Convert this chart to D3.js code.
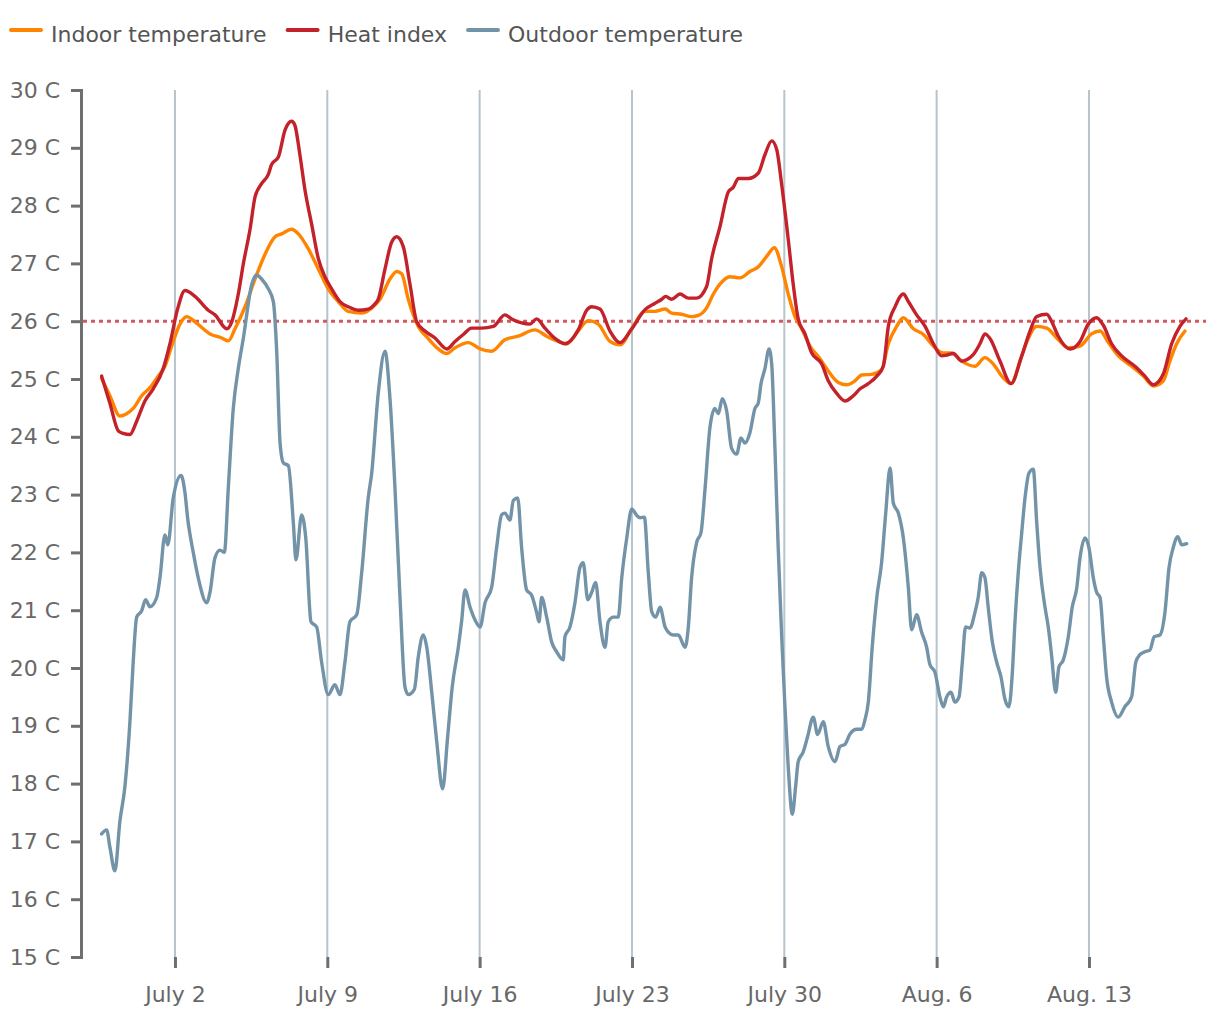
<!DOCTYPE html>
<html><head><meta charset="utf-8">
<script src="https://cdn.jsdelivr.net/npm/d3@7"></script>
<style>
body{margin:0;background:#fff}
svg{display:block}
text{font-family:"DejaVu Sans",sans-serif}
</style>
</head><body>
<svg id="chart" width="1220" height="1020"></svg>
<script>
// ---- data (time = days since June 28, 00:00) ----
const baseDate = Date.UTC(2018, 5, 28);
const seriesNames = ["Indoor temperature", "Heat index", "Outdoor temperature"];
const threshold = 26;
const yTicks = [15,16,17,18,19,20,21,22,23,24,25,26,27,28,29,30];
const xTickDays = [4, 11, 18, 25, 32, 39, 46];
const xTickLabels = ["July 2", "July 9", "July 16", "July 23", "July 30", "Aug. 6", "Aug. 13"];

const indoor = [[0.63,25.01],[1.01,24.71],[1.47,24.36],[1.78,24.40],[2.08,24.49],[2.47,24.71],[2.85,24.85],[3.23,25.05],[3.54,25.22],[3.85,25.57],[4.23,25.95],[4.54,26.08],[4.92,25.99],[5.61,25.78],[6.15,25.71],[6.45,25.66],[6.76,25.87],[7.22,26.25],[7.68,26.73],[8.14,27.16],[8.60,27.46],[8.90,27.51],[9.36,27.59],[9.67,27.51],[10.13,27.25],[10.59,26.90],[11.04,26.56],[11.50,26.34],[11.96,26.17],[12.58,26.14],[13.19,26.28],[13.42,26.38],[13.88,26.73],[14.19,26.86],[14.42,26.82],[14.72,26.38],[15.18,25.91],[15.64,25.70],[16.10,25.52],[16.49,25.44],[16.87,25.54],[17.48,25.63],[18.02,25.52],[18.55,25.48],[19.16,25.68],[19.78,25.74],[20.54,25.85],[21.08,25.74],[21.61,25.65],[22.00,25.61],[22.53,25.83],[22.99,26.01],[23.45,25.95],[23.99,25.65],[24.45,25.59],[24.99,25.87],[25.60,26.17],[26.06,26.17],[26.52,26.21],[26.82,26.14],[27.28,26.12],[27.74,26.08],[28.05,26.10],[28.43,26.23],[28.74,26.47],[29.04,26.64],[29.50,26.77],[29.96,26.75],[30.42,26.86],[30.80,26.94],[31.19,27.12],[31.54,27.27],[31.88,26.94],[32.18,26.47],[32.49,26.08],[32.80,25.87],[33.18,25.57],[33.64,25.35],[34.02,25.14],[34.48,24.94],[34.87,24.90],[35.25,24.97],[35.56,25.07],[36.01,25.08],[36.47,25.16],[36.78,25.61],[37.16,25.91],[37.47,26.06],[37.93,25.87],[38.39,25.77],[38.85,25.57],[39.31,25.45],[39.69,25.45],[40.15,25.31],[40.76,25.22],[41.22,25.37],[41.60,25.26],[42.06,25.02],[42.42,24.92],[42.83,25.31],[43.21,25.70],[43.60,25.91],[44.06,25.88],[44.52,25.71],[45.05,25.54],[45.59,25.57],[46.12,25.78],[46.51,25.83],[46.89,25.63],[47.35,25.40],[47.96,25.22],[48.50,25.05],[48.96,24.88],[49.42,24.97],[49.72,25.31],[50.03,25.61],[50.41,25.83]];

const heatIndex = [[0.63,25.05],[1.01,24.58],[1.40,24.10],[1.62,24.06],[1.93,24.04],[2.24,24.27],[2.62,24.62],[3.00,24.83],[3.46,25.18],[3.77,25.61],[4.12,26.21],[4.46,26.53],[4.92,26.43],[5.53,26.19],[5.84,26.11],[6.38,25.87],[6.61,25.99],[6.91,26.47],[7.14,26.99],[7.45,27.59],[7.68,28.15],[7.98,28.38],[8.29,28.54],[8.44,28.71],[8.75,28.84],[9.06,29.31],[9.36,29.46],[9.51,29.39],[9.74,28.88],[9.97,28.28],[10.28,27.68],[10.59,27.08],[10.89,26.77],[11.20,26.56],[11.58,26.34],[11.96,26.25],[12.42,26.19],[12.88,26.21],[13.19,26.30],[13.34,26.38],[13.65,26.90],[13.96,27.37],[14.19,27.46],[14.49,27.29],[14.80,26.64],[15.11,25.99],[15.49,25.83],[15.95,25.71],[16.49,25.52],[16.87,25.65],[17.25,25.77],[17.63,25.88],[18.09,25.88],[18.63,25.91],[19.16,26.11],[19.47,26.04],[19.93,25.97],[20.31,25.95],[20.62,26.04],[21.00,25.88],[21.54,25.68],[21.92,25.61],[22.53,25.85],[22.92,26.19],[23.15,26.25],[23.53,26.21],[23.99,25.83],[24.45,25.63],[24.99,25.87],[25.60,26.20],[26.06,26.31],[26.37,26.38],[26.55,26.43],[26.82,26.38],[27.21,26.47],[27.59,26.40],[27.97,26.40],[28.43,26.60],[28.66,27.08],[29.04,27.63],[29.43,28.24],[29.66,28.32],[29.89,28.47],[30.35,28.47],[30.80,28.56],[31.11,28.88],[31.42,29.12],[31.65,28.97],[31.88,28.36],[32.18,27.42],[32.41,26.64],[32.64,26.04],[32.95,25.78],[33.26,25.45],[33.72,25.26],[34.02,24.97],[34.41,24.75],[34.79,24.62],[35.17,24.71],[35.48,24.83],[35.86,24.92],[36.25,25.05],[36.55,25.22],[36.78,25.91],[37.09,26.25],[37.47,26.47],[37.70,26.34],[38.08,26.11],[38.47,25.91],[38.85,25.61],[39.23,25.40],[39.53,25.42],[39.76,25.44],[40.15,25.31],[40.68,25.42],[40.99,25.61],[41.22,25.78],[41.45,25.70],[41.91,25.31],[42.42,24.92],[42.91,25.40],[43.29,25.83],[43.60,26.08],[44.06,26.12],[44.29,25.99],[44.59,25.74],[45.13,25.52],[45.59,25.65],[45.97,25.95],[46.35,26.06],[46.66,25.93],[47.04,25.61],[47.50,25.40],[48.11,25.22],[48.57,25.05],[48.96,24.90],[49.42,25.09],[49.80,25.61],[50.18,25.91],[50.46,26.04]];

const outdoor = [[0.63,17.13],[0.86,17.2],[1.01,16.9],[1.24,16.49],[1.47,17.35],[1.70,17.95],[1.93,19.07],[2.08,20.1],[2.24,20.88],[2.47,20.99],[2.65,21.18],[2.85,21.06],[3.16,21.22],[3.31,21.56],[3.54,22.30],[3.67,22.13],[3.92,22.94],[4.28,23.33],[4.46,23.03],[4.58,22.6],[4.84,22.0],[5.07,21.56],[5.46,21.13],[5.61,21.31],[5.84,21.91],[6.07,22.04],[6.27,22.0],[6.45,23.11],[6.68,24.49],[6.91,25.18],[7.14,25.7],[7.53,26.64],[7.75,26.8],[7.98,26.73],[8.29,26.56],[8.52,26.34],[8.67,25.52],[8.83,23.89],[8.98,23.55],[9.21,23.5],[9.44,22.51],[9.56,21.87],[9.82,22.65],[10.01,22.25],[10.25,20.8],[10.51,20.71],[10.74,20.1],[11.04,19.54],[11.35,19.71],[11.58,19.54],[11.81,20.1],[12.04,20.8],[12.35,20.92],[12.58,21.65],[12.88,22.94],[13.04,23.37],[13.34,24.75],[13.65,25.48],[13.88,24.66],[14.11,23.11],[14.34,21.22],[14.57,19.67],[14.72,19.54],[15.00,19.63],[15.18,20.19],[15.41,20.57],[15.57,20.36],[15.80,19.58],[16.03,18.72],[16.30,17.91],[16.53,18.81],[16.74,19.67],[17.02,20.36],[17.17,20.80],[17.33,21.35],[17.56,21.05],[17.79,20.83],[18.02,20.71],[18.25,21.13],[18.55,21.39],[18.78,22.08],[19.01,22.65],[19.16,22.68],[19.39,22.56],[19.55,22.9],[19.75,22.94],[19.93,22.08],[20.16,21.35],[20.39,21.26],[20.62,20.96],[20.73,20.8],[20.85,21.22],[21.08,20.88],[21.31,20.45],[21.54,20.28],[21.84,20.14],[21.92,20.54],[22.15,20.71],[22.38,21.13],[22.61,21.74],[22.76,21.82],[22.97,21.18],[23.15,21.31],[23.33,21.48],[23.53,20.8],[23.76,20.36],[23.91,20.8],[24.14,20.88],[24.37,20.88],[24.53,21.56],[24.76,22.25],[24.99,22.75],[25.22,22.64],[25.37,22.6],[25.57,22.61],[25.75,21.65],[25.91,20.97],[26.09,20.88],[26.29,21.05],[26.52,20.71],[26.67,20.62],[26.90,20.57],[27.13,20.57],[27.44,20.36],[27.59,20.71],[27.74,21.56],[27.97,22.17],[28.17,22.34],[28.36,23.11],[28.58,24.15],[28.81,24.49],[28.97,24.4],[29.15,24.66],[29.35,24.45],[29.58,23.8],[29.81,23.70],[30.01,23.98],[30.19,23.89],[30.42,24.07],[30.65,24.49],[30.80,24.58],[30.93,24.92],[31.11,25.18],[31.30,25.52],[31.42,25.26],[31.57,23.8],[31.72,22.08],[31.88,20.54],[32.03,19.33],[32.18,18.29],[32.37,17.47],[32.52,17.95],[32.64,18.38],[32.87,18.55],[33.07,18.81],[33.33,19.15],[33.53,18.85],[33.79,19.07],[34.02,18.64],[34.33,18.38],[34.56,18.64],[34.79,18.68],[35.02,18.86],[35.33,18.94],[35.56,18.94],[35.71,19.11],[35.86,19.41],[36.04,20.36],[36.25,21.22],[36.47,21.82],[36.66,22.68],[36.86,23.46],[37.01,22.85],[37.24,22.68],[37.47,22.25],[37.70,21.39],[37.85,20.66],[38.08,20.92],[38.31,20.62],[38.54,20.36],[38.69,20.06],[38.92,19.93],[39.15,19.50],[39.31,19.33],[39.46,19.50],[39.66,19.58],[39.84,19.41],[40.03,19.50],[40.18,20.10],[40.33,20.71],[40.53,20.69],[40.76,20.96],[40.91,21.22],[41.07,21.65],[41.22,21.56],[41.37,21.05],[41.56,20.45],[41.76,20.1],[41.96,19.84],[42.14,19.46],[42.32,19.33],[42.48,19.93],[42.60,20.8],[42.75,21.65],[42.91,22.34],[43.06,22.94],[43.24,23.37],[43.44,23.44],[43.60,22.51],[43.75,21.74],[43.98,21.05],[44.13,20.71],[44.29,20.19],[44.47,19.58],[44.62,20.02],[44.82,20.14],[45.05,20.54],[45.23,21.05],[45.44,21.39],[45.59,21.91],[45.82,22.25],[46.00,22.08],[46.20,21.56],[46.35,21.31],[46.51,21.22],[46.66,20.54],[46.81,19.84],[47.04,19.41],[47.35,19.15],[47.65,19.33],[47.96,19.50],[48.15,20.10],[48.34,20.23],[48.57,20.28],[48.80,20.31],[49.00,20.54],[49.26,20.57],[49.49,20.96],[49.68,21.74],[49.87,22.08],[50.08,22.27],[50.26,22.13],[50.49,22.15]];

// ---- drawing ----
const colors = ["#ff8500", "#c3222b", "#7393a8"];
const toDate = d => new Date(baseDate + d * 864e5);
const svg = d3.select("#chart");

const x = d3.scaleUtc().domain([toDate(0.5), toDate(50.5)]).range([98.8, 1186.9]);
const y = d3.scaleLinear().domain([15, 30]).range([957, 90]);

// vertical gridlines
svg.append("g").selectAll("line").data(xTickDays).join("line")
  .attr("x1", d => x(toDate(d))).attr("x2", d => x(toDate(d)))
  .attr("y1", y(30)).attr("y2", y(15))
  .attr("stroke", "#b6c4ce").attr("stroke-width", 2);

// threshold line
svg.append("line")
  .attr("x1", 83).attr("x2", 1206)
  .attr("y1", y(threshold)).attr("y2", y(threshold))
  .attr("stroke", "#d2595f").attr("stroke-width", 3)
  .attr("stroke-dasharray", "4,4");

// y axis
const yAxis = svg.append("g").attr("transform", "translate(81,0)")
  .call(d3.axisLeft(y).tickValues(yTicks).tickFormat(d => d + " C").tickSize(10).tickPadding(11));
yAxis.select(".domain").attr("stroke", "#6f6f6f").attr("stroke-width", 3);
yAxis.selectAll(".tick line").attr("stroke", "#6f6f6f").attr("stroke-width", 3);
yAxis.selectAll(".tick text").attr("fill", "#686868").style("font-size", "22px")
  .style("font-family", "'DejaVu Sans', sans-serif");

// x axis
const xAxis = svg.append("g").attr("transform", "translate(0,957)")
  .call(d3.axisBottom(x).tickValues(xTickDays.map(toDate))
    .tickFormat((d, i) => xTickLabels[i]).tickSize(11).tickPadding(18));
xAxis.select(".domain").remove();
xAxis.selectAll(".tick line").attr("stroke", "#6f6f6f").attr("stroke-width", 3);
xAxis.selectAll(".tick text").attr("fill", "#686868").style("font-size", "22px")
  .style("font-family", "'DejaVu Sans', sans-serif");

// series lines
const line = d3.line().x(d => x(toDate(d[0]))).y(d => y(d[1])).curve(d3.curveMonotoneX);
[indoor, heatIndex, outdoor].forEach((s, i) => {
  svg.append("path").datum(s)
    .attr("d", line).attr("fill", "none")
    .attr("stroke", colors[i]).attr("stroke-width", 3.4)
    .attr("stroke-linejoin", "round").attr("stroke-linecap", "round");
});

// legend
const legend = svg.append("g");
let lx = 11;
seriesNames.forEach((name, i) => {
  legend.append("line").attr("x1", lx).attr("x2", lx + 30).attr("y1", 30).attr("y2", 30)
    .attr("stroke", colors[i]).attr("stroke-width", 4).attr("stroke-linecap", "round");
  const t = legend.append("text").attr("x", lx + 40).attr("y", 42)
    .attr("fill", "#555").style("font-size", "22px").text(name);
  lx = lx + 40 + t.node().getComputedTextLength() + 21;
});
</script>
</body></html>
